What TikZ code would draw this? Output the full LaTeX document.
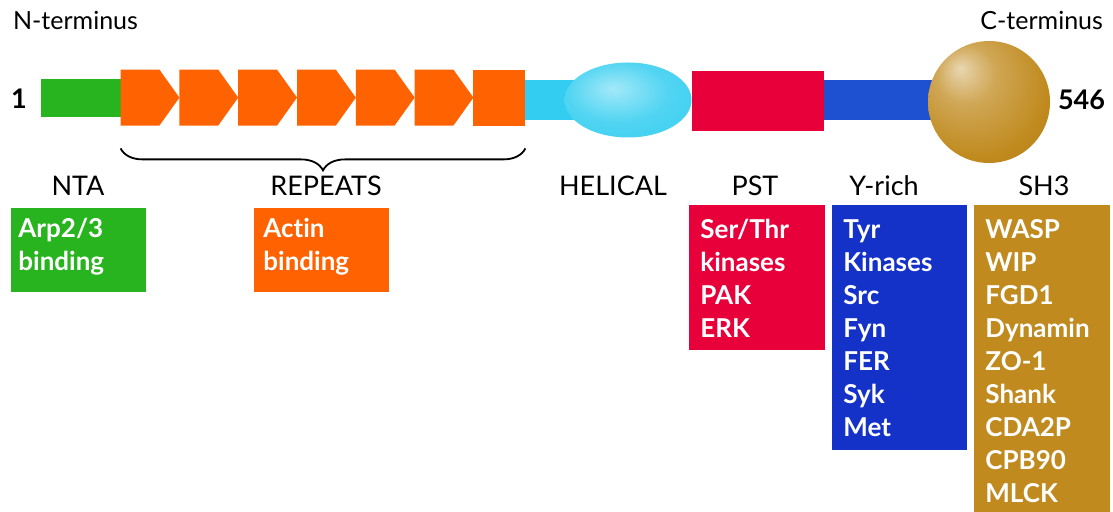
\documentclass[tikz,border=0pt]{standalone}
\usepackage{fontspec}
\setmainfont{Lato}[Ligatures=NoCommon]
\usetikzlibrary{positioning,calc,decorations.pathreplacing,shapes.geometric}

\definecolor{ntagreen}{RGB}{40,180,30}
\definecolor{reporange}{RGB}{255,98,0}
\definecolor{helcyan}{RGB}{50,205,240}
\definecolor{pstred}{RGB}{232,0,58}
\definecolor{ybarblue}{RGB}{30,80,210}
\definecolor{yboxblue}{RGB}{20,50,200}
\definecolor{shgold}{RGB}{192,138,30}

\pgfdeclareradialshading{goldball}{\pgfpoint{-12bp}{14bp}}{%
  color(0bp)=(shgold!35!white); color(12bp)=(shgold!75!white);
  color(30bp)=(shgold); color(62bp)=(shgold!80!black)}
\pgfdeclareradialshading{helshade}{\pgfpoint{-6bp}{8bp}}{%
  color(0bp)=(helcyan!45!white); color(20bp)=(helcyan!85!white);
  color(45bp)=(helcyan); color(60bp)=(helcyan!95!black)}

\begin{document}
\begin{tikzpicture}[x=0.5pt, y=-0.5pt,
  seg/.style={rectangle, draw=none, inner sep=0pt},
  head/.style={font=\fontsize{13.5}{16}\selectfont},
  term/.style={font=\fontsize{12.5}{15}\selectfont},
  resnum/.style={font=\bfseries\fontsize{13.5}{16}\selectfont},
  panel/.style={rectangle, draw=none, inner sep=0pt, anchor=north west, minimum width=67.5pt},
  paneltext/.style={anchor=north west, inner sep=0pt, align=left, text=white,
    font=\bfseries\fontsize{13}{16.5}\selectfont}
]
\useasboundingbox (0,0) rectangle (1113,512);

% domain bar
\node[seg, fill=ntagreen, minimum width=40pt, minimum height=19pt] (nta) at (81,98) {};
\node[seg, minimum width=202pt, minimum height=28pt] (rep) at (323,98) {};
\node[seg, fill=helcyan, minimum width=57.5pt, minimum height=20pt] (helbar) at (582,100) {};
\node[ellipse, shading=helshade, inner sep=0pt, minimum width=63.5pt, minimum height=37.5pt] (hel) at (628,100) {};
\node[seg, fill=pstred, minimum width=66pt, minimum height=30pt] (pst) at (758,101) {};
\node[seg, fill=ybarblue, minimum width=58pt, minimum height=20pt] (ybar) at (882,100) {};
\node[circle, shading=goldball, inner sep=0pt, minimum size=61pt] (sh3) at (989,102) {};

% repeat units
\foreach \i in {0,...,5}
  \fill[reporange] ($(rep.north west)+(58.8*\i,0)$) -- ++(38.8,0) -- ++(20,28)
    -- ++(-20,28) -- ++(-38.8,0) -- cycle;
\fill[reporange] ($(rep.north west)+(352.8,0)$) rectangle (rep.south east);

\draw[decorate, decoration={brace, mirror, amplitude=11pt}, line width=0.9pt]
  ([yshift=-11pt]rep.south west) -- ([yshift=-11pt]rep.south east);

% termini
\node[term, anchor=west] (nterm) at (6,20) {N-terminus};
\node[term, anchor=east] (cterm) at (1110,20) {C-terminus};
\node[resnum] (first) at (19,99) {1};
\node[resnum, anchor=west] (last) at (1051,100) {546};

% domain names
\node[head] (ntahead) at (78,186) {NTA};
\node[head] (rephead) at (326,186) {REPEATS};
\node[head] (helhead) at (613,186) {HELICAL};
\node[head] (psthead) at (755,186) {PST};
\node[head] (yhead) at (884,186) {Y-rich};
\node[head] (shhead) at (1044,186) {SH3};

% binding partners
\node[panel, fill=ntagreen, minimum height=42pt] (arpbox) at (11,208) {};
\node[paneltext] (arptext) at ([xshift=3.5pt,yshift=-5pt]arpbox.north west) {Arp2/3\\binding};
\node[panel, fill=reporange, minimum height=42pt] (actbox) at (254,208) {};
\node[paneltext] (acttext) at ([xshift=4.5pt,yshift=-5pt]actbox.north west) {Actin\\binding};
\node[panel, fill=pstred, minimum width=68pt, minimum height=72.5pt] (kinbox) at (689,205) {};
\node[paneltext] (kintext) at ([xshift=5.5pt,yshift=-7pt]kinbox.north west) {Ser/Thr\\kinases\\PAK\\ERK};
\node[panel, fill=yboxblue, minimum height=122.5pt] (tyrbox) at (832,205) {};
\node[paneltext] (tyrtext) at ([xshift=5.5pt,yshift=-7pt]tyrbox.north west) {Tyr\\Kinases\\Src\\Fyn\\FER\\Syk\\Met};
\node[panel, fill=shgold, minimum width=68pt, minimum height=155pt] (sh3box) at (974,205) {};
\node[paneltext] (sh3text) at ([xshift=5.5pt,yshift=-7pt]sh3box.north west) {WASP\\WIP\\FGD1\\Dynamin\\ZO-1\\Shank\\CDA2P\\CPB90\\MLCK};
\end{tikzpicture}
\end{document}
